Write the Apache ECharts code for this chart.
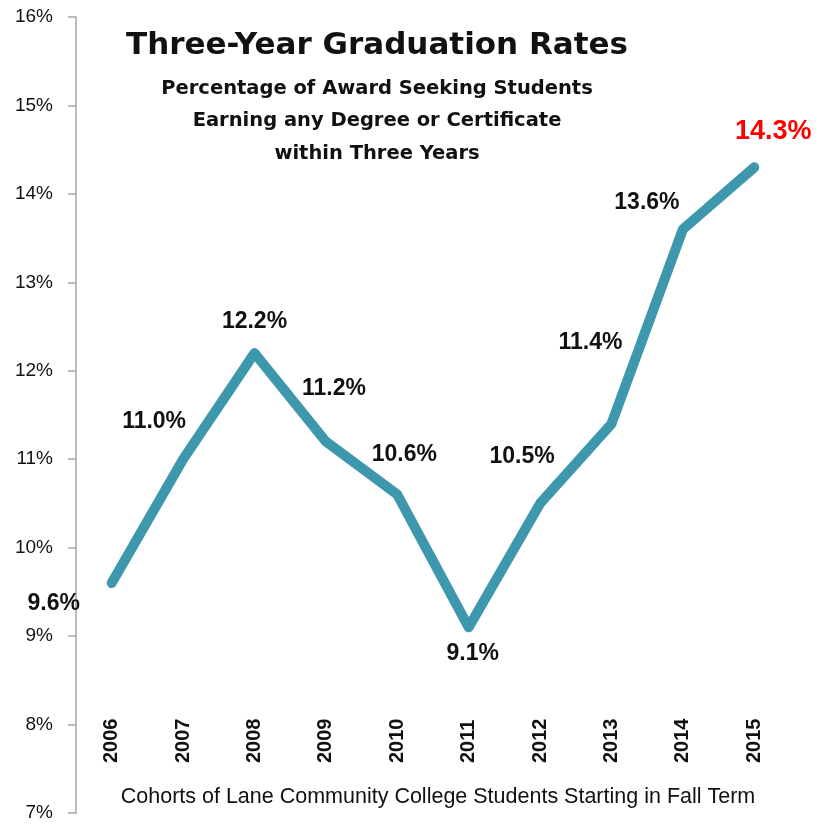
<!DOCTYPE html>
<html>
<head>
<meta charset="utf-8">
<script src="https://cdn.jsdelivr.net/npm/echarts@6/dist/echarts.min.js"></script>
<style>
  html, body { margin: 0; padding: 0; background: #fff; }
  #chart { width: 829px; height: 825px; }
</style>
</head>
<body>
<div id="chart"></div>
<script>
// cohorts and 3-year graduation rates (%)
var years = ["2006", "2007", "2008", "2009", "2010", "2011", "2012", "2013", "2014", "2015"];
var rates = [9.6, 11.0, 12.2, 11.2, 10.6, 9.1, 10.5, 11.4, 13.6, 14.3];
var yTicks = { min: 7, max: 16, step: 1 };

// where each value label sits relative to its point
var labelOffsets = [[-58, 21], [-29, -38], [0, -31], [8, -53], [7, -40],
                    [4, 26], [-18, -47], [-21, -81], [-36, -27], [19, -36]];

var chart = echarts.init(document.getElementById("chart"));

var seriesData = rates.map(function (v, i) {
  var last = i === rates.length - 1;
  return {
    value: v,
    label: {
      offset: labelOffsets[i],
      color: last ? "#ff0000" : "#111",
      fontSize: last ? 27 : 23
    }
  };
});

var option = {
  animation: false,
  backgroundColor: "#fff",
  grid: { left: 76, right: 39, top: 17, bottom: 12 },
  xAxis: {
    type: "category",
    data: years,
    boundaryGap: true,
    axisLine: { show: false },
    axisTick: { show: false },
    axisLabel: {
      inside: true,
      rotate: 90,
      margin: 50,
      fontFamily: "Liberation Sans",
      fontWeight: "bold",
      fontSize: 20,
      color: "#111"
    }
  },
  yAxis: {
    type: "value",
    min: yTicks.min,
    max: yTicks.max,
    interval: yTicks.step,
    axisLine: { show: true, lineStyle: { color: "#a6a6a6", width: 1.5 } },
    axisTick: { show: true, length: 8, lineStyle: { color: "#a6a6a6", width: 1.5 } },
    splitLine: { show: false },
    axisLabel: {
      formatter: "{value}%",
      margin: 23,
      fontFamily: "Liberation Sans",
      fontSize: 19,
      color: "#111"
    }
  },
  graphic: [
    {
      type: "text", x: 377, y: 46,
      style: {
        text: "Three-Year Graduation Rates",
        font: "bold 31px 'DejaVu Sans'",
        fill: "#111", textAlign: "center", textVerticalAlign: "middle"
      }
    },
    {
      type: "text", x: 377, y: 121,
      style: {
        text: "Percentage of Award Seeking Students\nEarning any Degree or Certificate\nwithin Three Years",
        font: "bold 19.5px 'DejaVu Sans'",
        lineHeight: 32.5,
        fill: "#111", textAlign: "center", textVerticalAlign: "middle"
      }
    },
    {
      type: "text", x: 438, y: 797,
      style: {
        text: "Cohorts of Lane Community College Students Starting in Fall Term",
        font: "21.5px 'Liberation Sans'",
        fill: "#111", textAlign: "center", textVerticalAlign: "middle"
      }
    }
  ],
  series: [
    {
      type: "line",
      data: seriesData,
      symbol: "circle",
      symbolSize: 2,
      showSymbol: true,
      itemStyle: { color: "#3d97ad" },
      lineStyle: { color: "#3d97ad", width: 10, cap: "round", join: "round" },
      label: {
        show: true,
        position: "inside",
        formatter: function (p) { return p.value.toFixed(1) + "%"; },
        fontFamily: "Liberation Sans",
        fontWeight: "bold"
      }
    }
  ]
};

chart.setOption(option);
window.addEventListener("resize", function () { chart.resize(); });
</script>
</body>
</html>
